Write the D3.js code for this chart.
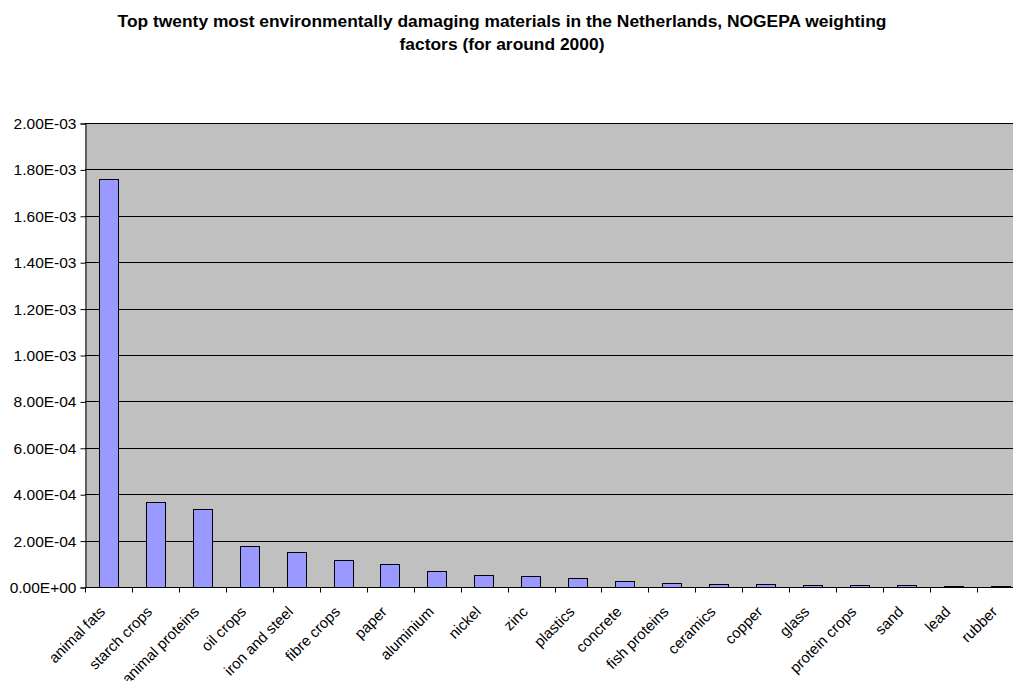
<!DOCTYPE html>
<html>
<head>
<meta charset="utf-8">
<script src="https://cdn.jsdelivr.net/npm/d3@7"></script>
<style>
  html, body { margin: 0; padding: 0; background: #fff; overflow: hidden; }
  svg { display: block; font-family: "Liberation Sans", Arial, sans-serif; }
</style>
</head>
<body>
<svg id="chart" width="1013" height="681"></svg>
<script>
// Materials, ordered by weighted environmental impact
const categories = [
  "animal fats", "starch crops", "animal proteins", "oil crops", "iron and steel",
  "fibre crops", "paper", "aluminium", "nickel", "zinc",
  "plastics", "concrete", "fish proteins", "ceramics", "copper",
  "glass", "protein crops", "sand", "lead", "rubber"
];
const impactValues = [
  1.76e-3, 3.66e-4, 3.35e-4, 1.75e-4, 1.50e-4,
  1.18e-4, 0.98e-4, 0.71e-4, 0.52e-4, 0.49e-4,
  0.40e-4, 0.27e-4, 0.16e-4, 0.14e-4, 0.12e-4,
  0.08e-4, 0.07e-4, 0.07e-4, 0.05e-4, 0.03e-4
];
const yTicks = [0, 2e-4, 4e-4, 6e-4, 8e-4, 1e-3, 1.2e-3, 1.4e-3, 1.6e-3, 1.8e-3, 2e-3];
const titleLines = [
  "Top twenty most environmentally damaging materials in the Netherlands, NOGEPA weighting",
  "factors (for around 2000)"
];

const svg = d3.select("#chart");
const plot = { left: 85, right: 1024, top: 123, bottom: 587 };

const x = d3.scaleBand()
  .domain(categories)
  .range([plot.left, plot.right])
  .paddingInner(0.586)
  .paddingOuter(0.293);
const xCat = d3.scaleBand().domain(categories).range([plot.left, plot.right]);
const y = d3.scaleLinear().domain([0, 2e-3]).range([plot.bottom, plot.top]);

// Plot background
svg.append("rect")
  .attr("x", plot.left).attr("y", plot.top)
  .attr("width", plot.right - plot.left).attr("height", plot.bottom - plot.top)
  .attr("fill", "#C0C0C0");

// Horizontal gridlines
svg.append("g")
  .selectAll("line")
  .data(yTicks.filter(d => d > 0))
  .join("line")
  .attr("x1", plot.left).attr("x2", plot.right)
  .attr("y1", d => Math.round(y(d)) + 0.5).attr("y2", d => Math.round(y(d)) + 0.5)
  .attr("stroke", "#000").attr("stroke-width", 1);

// Bars
svg.append("g")
  .selectAll("rect")
  .data(categories.map((c, i) => ({ c, v: impactValues[i] })))
  .join("rect")
  .attr("x", d => Math.round(x(d.c)) + 0.5)
  .attr("y", d => Math.round(y(d.v)) + 0.5)
  .attr("width", Math.round(x.bandwidth()))
  .attr("height", d => Math.max(0, Math.round(y(0)) - Math.round(y(d.v))))
  .attr("fill", "#9999FF")
  .attr("stroke", "#000")
  .attr("stroke-width", 1);

// Y axis
const fmt = v => {
  const s = v.toExponential(2).toUpperCase();
  return s.replace(/E([+-])(\d)$/, "E$10$2");
};
const yAxis = d3.axisLeft(y)
  .tickValues(yTicks)
  .tickFormat(fmt)
  .tickSize(5)
  .tickPadding(4);
const gy = svg.append("g")
  .attr("transform", `translate(${plot.left + 0.5},0.5)`)
  .call(yAxis);
gy.select(".domain").attr("stroke", "#000");
gy.selectAll(".tick line").attr("stroke", "#000");
gy.selectAll(".tick text")
  .attr("font-size", 15.5)
  .attr("font-family", "Liberation Sans, Arial, sans-serif")
  .attr("fill", "#000");

// X axis: ticks between categories
const gx = svg.append("g").attr("transform", `translate(0.5,${plot.bottom + 0.5})`);
gx.append("line")
  .attr("x1", plot.left).attr("x2", plot.right)
  .attr("stroke", "#000");
gx.selectAll("line.tick")
  .data(categories.concat(["end"]))
  .join("line")
  .attr("class", "tick")
  .attr("x1", (d, i) => Math.round(plot.left + i * xCat.step()))
  .attr("x2", (d, i) => Math.round(plot.left + i * xCat.step()))
  .attr("y1", 0).attr("y2", 5)
  .attr("stroke", "#000");

// Rotated category labels
svg.append("g")
  .selectAll("text")
  .data(categories)
  .join("text")
  .attr("transform", d => `translate(${xCat(d) + xCat.bandwidth() / 2 - 6},${plot.bottom + 22}) rotate(-45)`)
  .attr("text-anchor", "end")
  .attr("dy", "0.35em")
  .attr("font-size", 15)
  .attr("fill", "#000")
  .text(d => d);

// Title
svg.append("text")
  .attr("x", 502)
  .attr("y", 27)
  .attr("text-anchor", "middle")
  .attr("font-size", 17.4)
  .attr("font-weight", "bold")
  .selectAll("tspan")
  .data(titleLines)
  .join("tspan")
  .attr("x", 502)
  .attr("dy", (d, i) => i === 0 ? 0 : 23)
  .text(d => d);
</script>
</body>
</html>
